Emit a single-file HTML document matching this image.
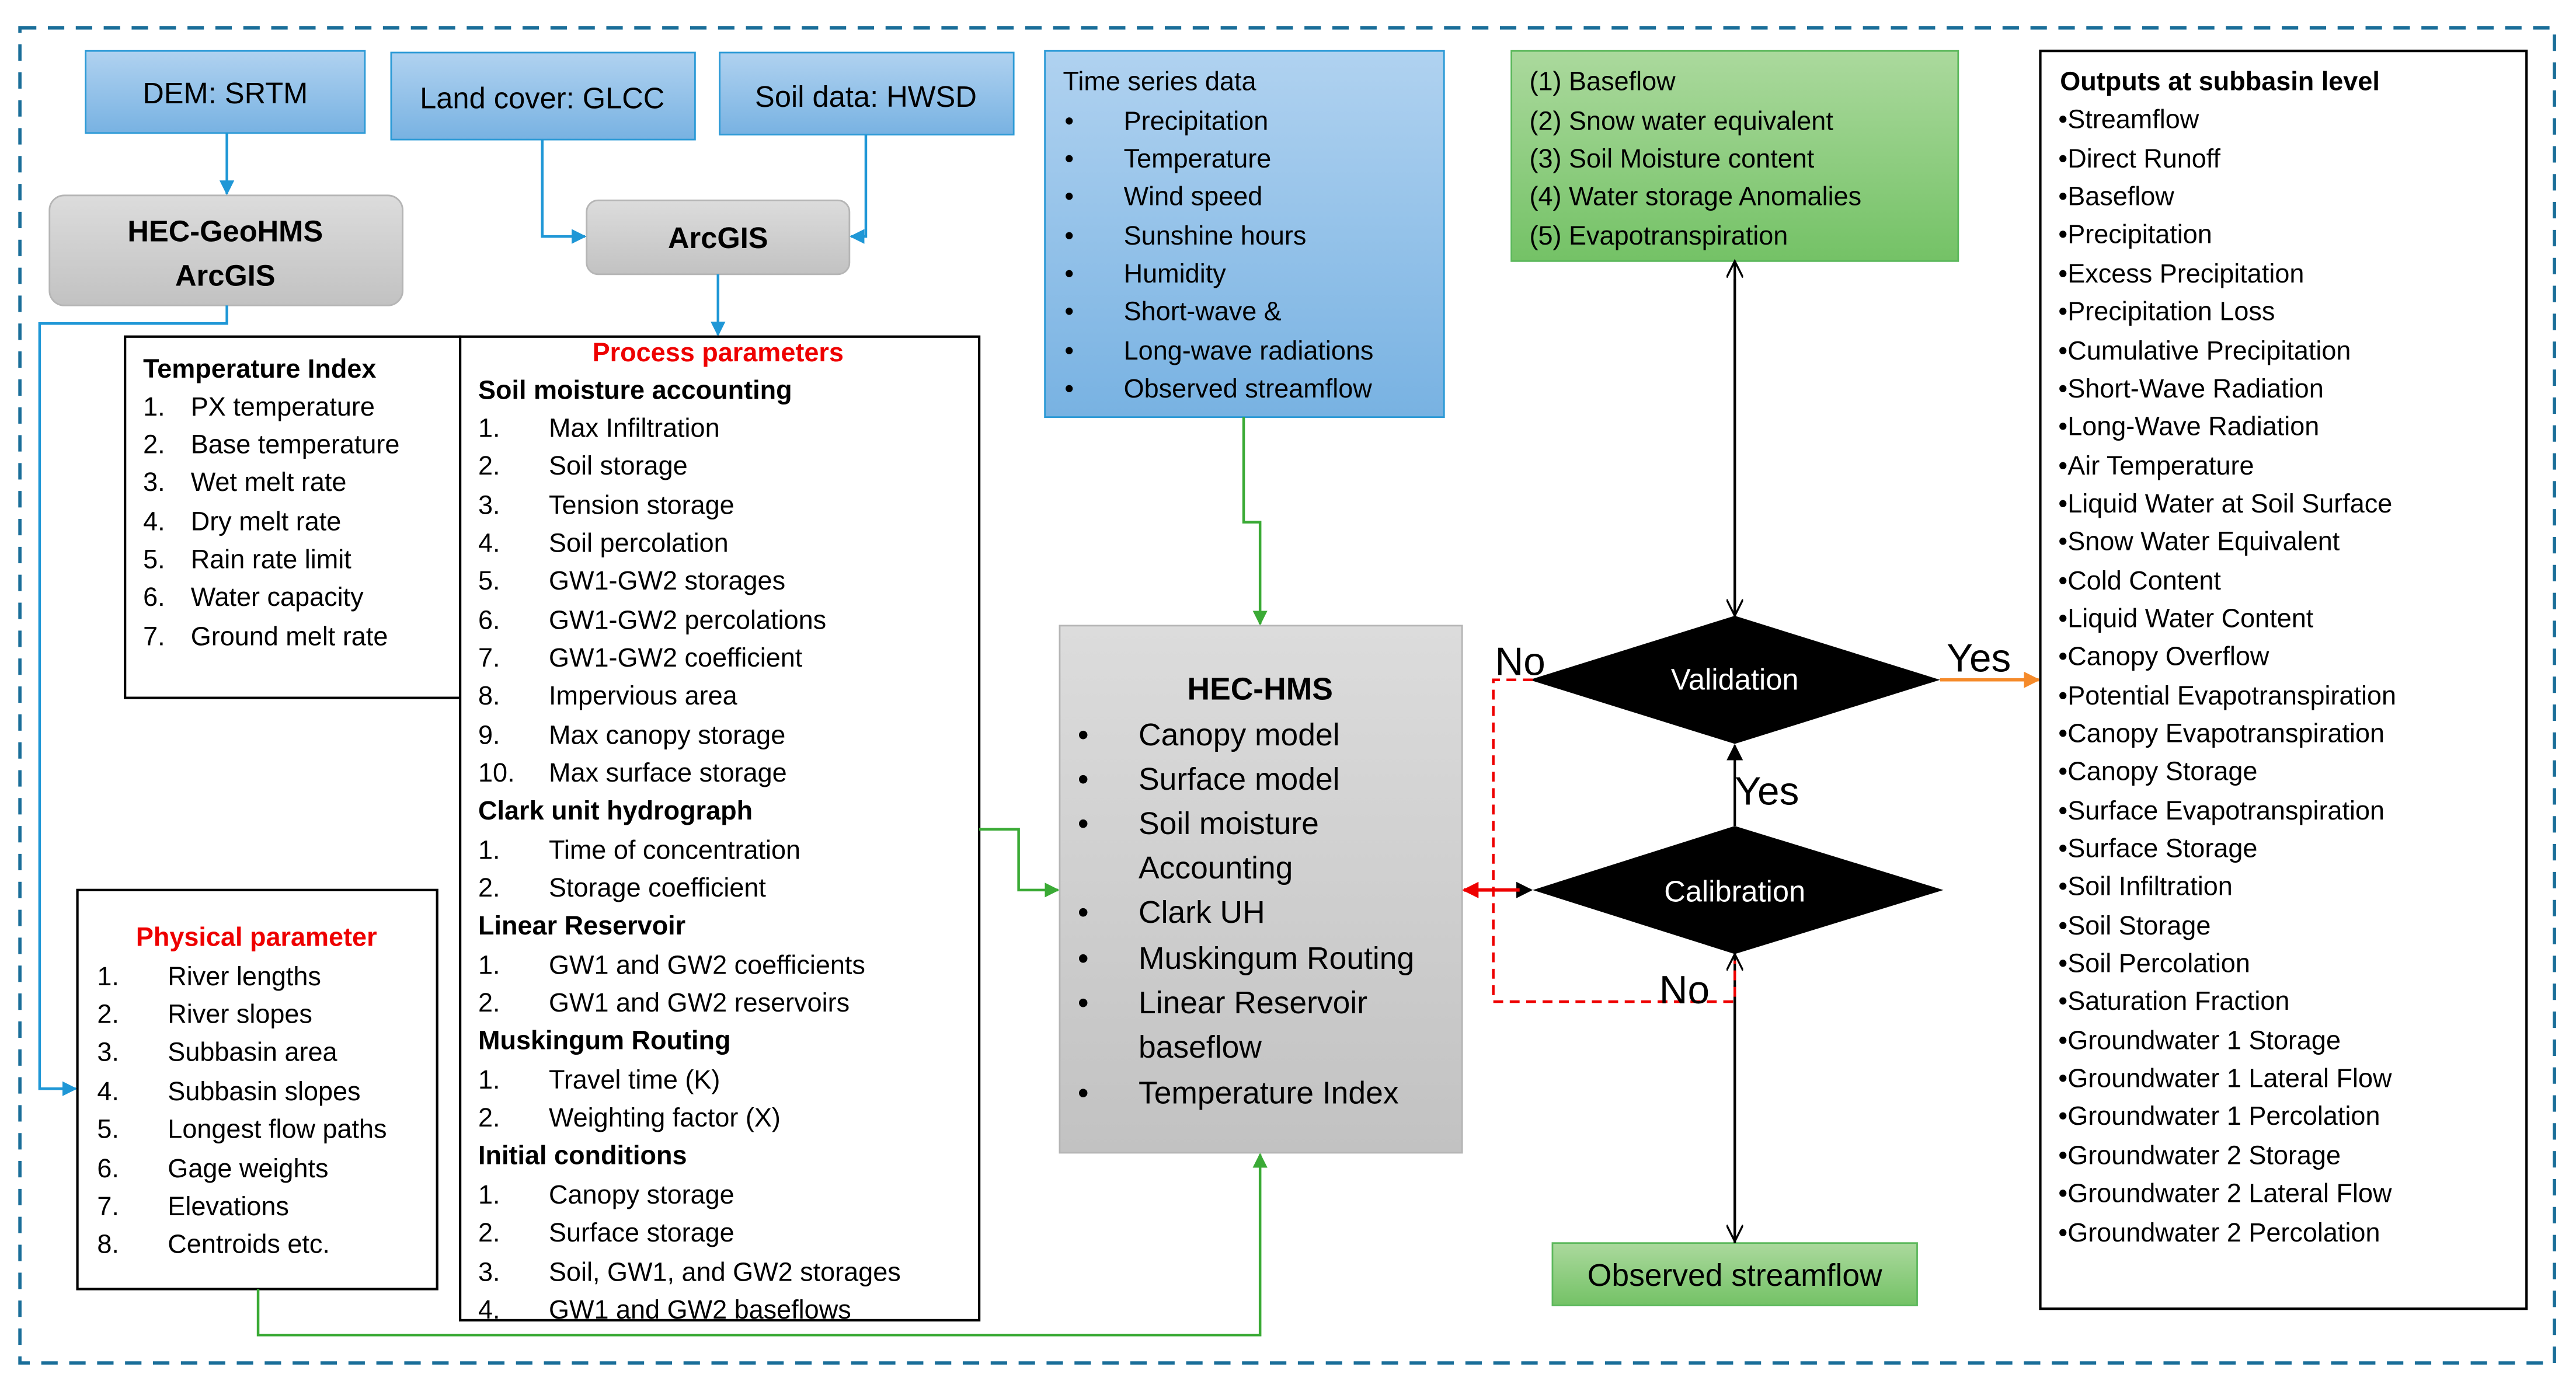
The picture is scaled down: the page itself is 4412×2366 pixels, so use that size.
<!DOCTYPE html>
<html><head><meta charset="utf-8"><style>html,body{margin:0;padding:0;background:#fff}svg{display:block}</style></head><body>
<svg xmlns="http://www.w3.org/2000/svg" width="4412" height="2366" viewBox="0 0 1568 841" font-family="Liberation Sans, sans-serif" font-size="16">
<defs>
<linearGradient id="bl" x1="0" y1="0" x2="0" y2="1"><stop offset="0" stop-color="#b0d2f0"/><stop offset="1" stop-color="#78b2e2"/></linearGradient>
<linearGradient id="gr" x1="0" y1="0" x2="0" y2="1"><stop offset="0" stop-color="#dcdcdc"/><stop offset="1" stop-color="#c2c2c2"/></linearGradient>
<linearGradient id="gn" x1="0" y1="0" x2="0" y2="1"><stop offset="0" stop-color="#abd99d"/><stop offset="1" stop-color="#74c266"/></linearGradient>
<marker id="ab" viewBox="0 0 10 10" refX="9" refY="5" markerWidth="9" markerHeight="9" orient="auto" markerUnits="userSpaceOnUse"><path d="M0,0L10,5L0,10z" fill="#1f97d6"/></marker>
<marker id="ag" viewBox="0 0 10 10" refX="9" refY="5" markerWidth="9" markerHeight="9" orient="auto" markerUnits="userSpaceOnUse"><path d="M0,0L10,5L0,10z" fill="#3aaa35"/></marker>
<marker id="ak" viewBox="0 0 10 10" refX="9" refY="5" markerWidth="10" markerHeight="10" orient="auto" markerUnits="userSpaceOnUse"><path d="M0,0L10,5L0,10z" fill="#000"/></marker>
<marker id="ao" viewBox="0 0 10 10" refX="10" refY="5" markerWidth="14" markerHeight="10" orient="auto" markerUnits="userSpaceOnUse"><path d="M0,0L10,5L0,10" fill="none" stroke="#000" stroke-width="1.2"/></marker>
<marker id="ar" viewBox="0 0 10 10" refX="9" refY="5" markerWidth="10" markerHeight="10" orient="auto" markerUnits="userSpaceOnUse"><path d="M0,0L10,5L0,10z" fill="#e00"/></marker>
<marker id="aor" viewBox="0 0 10 10" refX="9" refY="5" markerWidth="10" markerHeight="10" orient="auto" markerUnits="userSpaceOnUse"><path d="M0,0L10,5L0,10z" fill="#f58a2a"/></marker>
</defs>
<rect x="12" y="17" width="1543" height="813" fill="none" stroke="#1a6e99" stroke-width="2" stroke-dasharray="10,7"/>

<!-- top inputs -->
<rect x="52" y="31" width="170" height="50" fill="url(#bl)" stroke="#2c9ad6"/>
<text x="137" y="63" text-anchor="middle" font-size="18">DEM: SRTM</text>
<rect x="238" y="32" width="185" height="53" fill="url(#bl)" stroke="#2c9ad6"/>
<text x="330" y="66" text-anchor="middle" font-size="18">Land cover: GLCC</text>
<rect x="438" y="32" width="179" height="50" fill="url(#bl)" stroke="#2c9ad6"/>
<text x="527" y="65" text-anchor="middle" font-size="18">Soil data: HWSD</text>

<rect x="30" y="119" width="215" height="67" rx="9" fill="url(#gr)" stroke="#b5b5b5"/>
<text x="137" y="147" text-anchor="middle" font-size="18" font-weight="bold">HEC-GeoHMS</text>
<text x="137" y="174" text-anchor="middle" font-size="18" font-weight="bold">ArcGIS</text>
<rect x="357" y="122" width="160" height="45" rx="7" fill="url(#gr)" stroke="#b5b5b5"/>
<text x="437" y="151" text-anchor="middle" font-size="18" font-weight="bold">ArcGIS</text>

<g fill="none" stroke="#1f97d6" stroke-width="1.6">
<path d="M138,81V118" marker-end="url(#ab)"/>
<path d="M330,85V144H356" marker-end="url(#ab)"/>
<path d="M527,82V144H518" marker-end="url(#ab)"/>
<path d="M437,167V204" marker-end="url(#ab)"/>
<path d="M138,186V197H24V663H46" marker-end="url(#ab)"/>
</g>

<!-- time series -->
<rect x="636" y="31" width="243" height="223" fill="url(#bl)" stroke="#2c9ad6"/>
<g font-size="16">
<text x="647" y="55">Time series data</text>
<g><text x="648" y="79">•</text><text x="684" y="79">Precipitation</text>
<text x="648" y="102">•</text><text x="684" y="102">Temperature</text>
<text x="648" y="125">•</text><text x="684" y="125">Wind speed</text>
<text x="648" y="149">•</text><text x="684" y="149">Sunshine hours</text>
<text x="648" y="172">•</text><text x="684" y="172">Humidity</text>
<text x="648" y="195">•</text><text x="684" y="195">Short-wave  &amp;</text>
<text x="648" y="219">•</text><text x="684" y="219">Long-wave radiations</text>
<text x="648" y="242">•</text><text x="684" y="242">Observed streamflow</text></g>
</g>

<!-- green top -->
<rect x="920" y="31" width="272" height="128" fill="url(#gn)" stroke="#5cb85c"/>
<g font-size="16">
<text x="931" y="55">(1) Baseflow</text>
<text x="931" y="79">(2) Snow water equivalent</text>
<text x="931" y="102">(3) Soil Moisture content</text>
<text x="931" y="125">(4) Water storage Anomalies</text>
<text x="931" y="149">(5) Evapotranspiration</text>
</g>

<!-- temp index -->
<rect x="76" y="205" width="204" height="220" fill="#fff" stroke="#000" stroke-width="1.5"/>
<g font-size="16">
<text x="87" y="230" font-weight="bold">Temperature Index</text>
<text x="87" y="253">1.</text><text x="116" y="253">PX temperature</text>
<text x="87" y="276">2.</text><text x="116" y="276">Base temperature</text>
<text x="87" y="299">3.</text><text x="116" y="299">Wet melt rate</text>
<text x="87" y="323">4.</text><text x="116" y="323">Dry melt rate</text>
<text x="87" y="346">5.</text><text x="116" y="346">Rain rate limit</text>
<text x="87" y="369">6.</text><text x="116" y="369">Water capacity</text>
<text x="87" y="393">7.</text><text x="116" y="393">Ground melt rate</text>
</g>

<!-- process params -->
<rect x="280" y="205" width="316" height="599" fill="#fff" stroke="#000" stroke-width="1.5"/>
<g font-size="16">
<text x="437" y="220" text-anchor="middle" fill="#e00" font-weight="bold">Process parameters</text>
<text x="291" y="243" font-weight="bold">Soil moisture accounting</text>
<text x="291" y="266">1.</text><text x="334" y="266">Max Infiltration</text>
<text x="291" y="289">2.</text><text x="334" y="289">Soil storage</text>
<text x="291" y="313">3.</text><text x="334" y="313">Tension storage</text>
<text x="291" y="336">4.</text><text x="334" y="336">Soil percolation</text>
<text x="291" y="359">5.</text><text x="334" y="359">GW1-GW2 storages</text>
<text x="291" y="383">6.</text><text x="334" y="383">GW1-GW2 percolations</text>
<text x="291" y="406">7.</text><text x="334" y="406">GW1-GW2 coefficient</text>
<text x="291" y="429">8.</text><text x="334" y="429">Impervious area</text>
<text x="291" y="453">9.</text><text x="334" y="453">Max canopy storage</text>
<text x="291" y="476">10.</text><text x="334" y="476">Max surface storage</text>
<text x="291" y="499" font-weight="bold">Clark unit hydrograph</text>
<text x="291" y="523">1.</text><text x="334" y="523">Time of concentration</text>
<text x="291" y="546">2.</text><text x="334" y="546">Storage coefficient</text>
<text x="291" y="569" font-weight="bold">Linear Reservoir</text>
<text x="291" y="593">1.</text><text x="334" y="593">GW1 and GW2 coefficients</text>
<text x="291" y="616">2.</text><text x="334" y="616">GW1 and GW2 reservoirs</text>
<text x="291" y="639" font-weight="bold">Muskingum Routing</text>
<text x="291" y="663">1.</text><text x="334" y="663">Travel time (K)</text>
<text x="291" y="686">2.</text><text x="334" y="686">Weighting factor (X)</text>
<text x="291" y="709" font-weight="bold">Initial conditions</text>
<text x="291" y="733">1.</text><text x="334" y="733">Canopy storage</text>
<text x="291" y="756">2.</text><text x="334" y="756">Surface storage</text>
<text x="291" y="780">3.</text><text x="334" y="780">Soil, GW1, and GW2 storages</text>
<text x="291" y="803">4.</text><text x="334" y="803">GW1 and GW2 baseflows</text>
</g>

<!-- physical -->
<rect x="47" y="542" width="219" height="243" fill="#fff" stroke="#000" stroke-width="1.5"/>
<g font-size="16">
<text x="156" y="576" text-anchor="middle" fill="#e00" font-weight="bold">Physical parameter</text>
<text x="59" y="600">1.</text><text x="102" y="600">River lengths</text>
<text x="59" y="623">2.</text><text x="102" y="623">River slopes</text>
<text x="59" y="646">3.</text><text x="102" y="646">Subbasin area</text>
<text x="59" y="670">4.</text><text x="102" y="670">Subbasin slopes</text>
<text x="59" y="693">5.</text><text x="102" y="693">Longest flow paths</text>
<text x="59" y="717">6.</text><text x="102" y="717">Gage weights</text>
<text x="59" y="740">7.</text><text x="102" y="740">Elevations</text>
<text x="59" y="763">8.</text><text x="102" y="763">Centroids etc.</text>
</g>

<!-- HEC-HMS -->
<rect x="645" y="381" width="245" height="321" fill="url(#gr)" stroke="#b5b5b5"/>
<g font-size="19">
<text x="767" y="426" text-anchor="middle" font-weight="bold">HEC-HMS</text>
<text x="656" y="454">•</text><text x="693" y="454">Canopy model</text>
<text x="656" y="481">•</text><text x="693" y="481">Surface model</text>
<text x="656" y="508">•</text><text x="693" y="508">Soil moisture</text>
<text x="693" y="535">Accounting</text>
<text x="656" y="562">•</text><text x="693" y="562">Clark UH</text>
<text x="656" y="590">•</text><text x="693" y="590">Muskingum Routing</text>
<text x="656" y="617">•</text><text x="693" y="617">Linear Reservoir</text>
<text x="693" y="644">baseflow</text>
<text x="656" y="672">•</text><text x="693" y="672">Temperature Index</text>
</g>

<!-- green connectors -->
<g fill="none" stroke="#3aaa35" stroke-width="1.6">
<path d="M757,254V318H767V380" marker-end="url(#ag)"/>
<path d="M596,505H620V542H644" marker-end="url(#ag)"/>
<path d="M157,785V813H767V703" marker-end="url(#ag)"/>
</g>

<!-- diamonds -->
<polygon points="931,414 1056,375 1181,414 1056,453" fill="#000"/>
<text x="1056" y="420" text-anchor="middle" fill="#fff" font-size="18">Validation</text>
<polygon points="933,542 1056,503 1183,542 1056,581" fill="#000"/>
<text x="1056" y="549" text-anchor="middle" fill="#fff" font-size="18">Calibration</text>

<!-- observed -->
<rect x="945" y="757" width="222" height="38" fill="url(#gn)" stroke="#5cb85c"/>
<text x="1056" y="783" text-anchor="middle" font-size="19">Observed streamflow</text>

<!-- black connectors -->
<g fill="none" stroke="#000" stroke-width="1.5">
<path d="M1056,170V375" marker-end="url(#ao)"/>
<path d="M1056,375V159" marker-end="url(#ao)"/>
<path d="M1056,503V454" marker-end="url(#ak)"/>
<path d="M1056,757V581" marker-end="url(#ao)"/>
<path d="M1056,600V756" marker-end="url(#ao)"/>
<path d="M900,542H932" marker-end="url(#ak)"/>
</g>
<path d="M925,542H891" stroke="#e00" stroke-width="2" fill="none" marker-end="url(#ar)"/>
<path d="M933,414H909V610H1056V585" stroke="#e00" stroke-width="1.6" fill="none" stroke-dasharray="6,4"/>
<path d="M1181,414L1241,414" stroke="#f58a2a" stroke-width="2" fill="none" marker-end="url(#aor)"/>
<g font-size="24">
<text x="910" y="411">No</text>
<text x="1185" y="409">Yes</text>
<text x="1056" y="490">Yes</text>
<text x="1010" y="611">No</text>
</g>

<!-- outputs -->
<rect x="1242" y="31" width="296" height="766" fill="#fff" stroke="#000" stroke-width="1.5"/>
<g font-size="16">
<text x="1254" y="55" font-weight="bold">Outputs at subbasin level</text>
<text x="1253" y="78">•Streamflow</text>
<text x="1253" y="102">•Direct Runoff</text>
<text x="1253" y="125">•Baseflow</text>
<text x="1253" y="148">•Precipitation</text>
<text x="1253" y="172">•Excess Precipitation</text>
<text x="1253" y="195">•Precipitation Loss</text>
<text x="1253" y="219">•Cumulative Precipitation</text>
<text x="1253" y="242">•Short-Wave Radiation</text>
<text x="1253" y="265">•Long-Wave Radiation</text>
<text x="1253" y="289">•Air Temperature</text>
<text x="1253" y="312">•Liquid Water at Soil Surface</text>
<text x="1253" y="335">•Snow Water Equivalent</text>
<text x="1253" y="359">•Cold Content</text>
<text x="1253" y="382">•Liquid Water Content</text>
<text x="1253" y="405">•Canopy Overflow</text>
<text x="1253" y="429">•Potential Evapotranspiration</text>
<text x="1253" y="452">•Canopy Evapotranspiration</text>
<text x="1253" y="475">•Canopy Storage</text>
<text x="1253" y="499">•Surface Evapotranspiration</text>
<text x="1253" y="522">•Surface Storage</text>
<text x="1253" y="545">•Soil Infiltration</text>
<text x="1253" y="569">•Soil Storage</text>
<text x="1253" y="592">•Soil Percolation</text>
<text x="1253" y="615">•Saturation Fraction</text>
<text x="1253" y="639">•Groundwater 1 Storage</text>
<text x="1253" y="662">•Groundwater 1 Lateral Flow</text>
<text x="1253" y="685">•Groundwater 1 Percolation</text>
<text x="1253" y="709">•Groundwater 2 Storage</text>
<text x="1253" y="732">•Groundwater 2 Lateral Flow</text>
<text x="1253" y="756">•Groundwater 2 Percolation</text>
</g>
</svg>
</body></html>
